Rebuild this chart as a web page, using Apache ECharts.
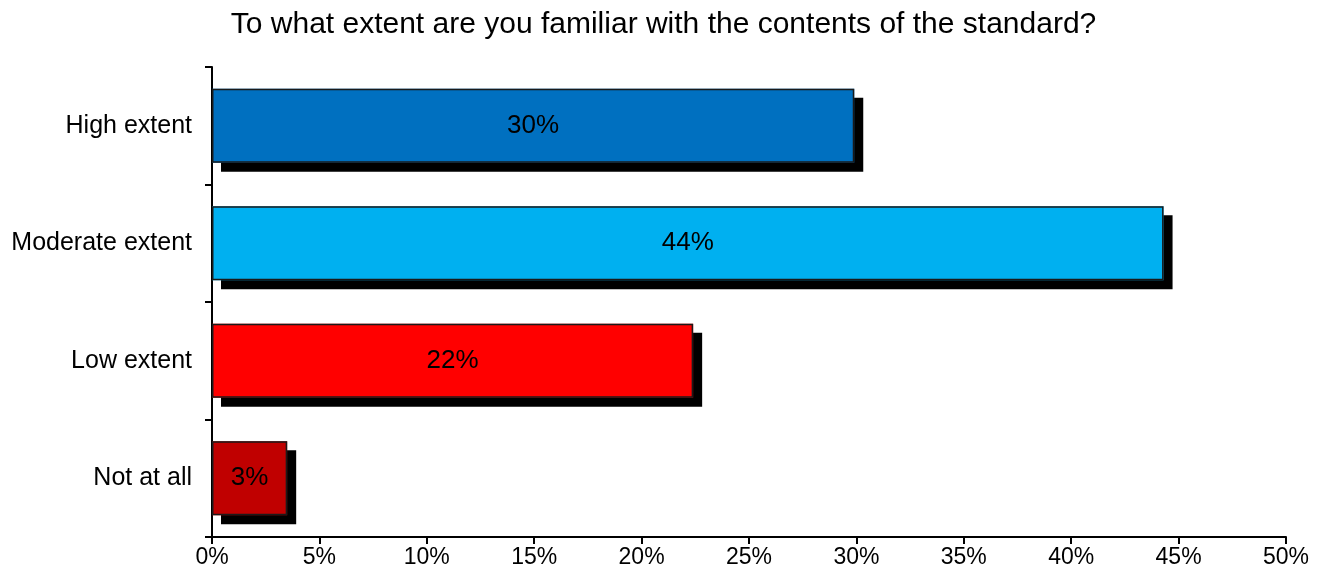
<!DOCTYPE html>
<html>
<head>
<meta charset="utf-8">
<script src="https://cdn.jsdelivr.net/npm/echarts@6/dist/echarts.min.js"></script>
<style>
html,body{margin:0;padding:0;background:#fff;}
#chart{width:1327px;height:580px;}
</style>
</head>
<body>
<div id="chart"></div>
<script>
const title = "To what extent are you familiar with the contents of the standard?";
const categories = ["High extent", "Moderate extent", "Low extent", "Not at all"];
const values = [29.9, 44.3, 22.4, 3.5];
const valueLabels = ["30%", "44%", "22%", "3%"];
const barColors = ["#0070C0", "#00B0F0", "#FF0000", "#C00000"];
const xTicks = [0, 5, 10, 15, 20, 25, 30, 35, 40, 45, 50];

const FONT = "'Liberation Sans', Arial, sans-serif";
const chart = echarts.init(document.getElementById('chart'), null, {renderer: 'canvas'});
chart.setOption({
  animation: false,
  backgroundColor: '#fff',
  title: {
    text: title,
    left: 'center',
    top: 5,
    textStyle: {fontFamily: FONT, fontSize: 30, fontWeight: 'normal', color: '#000'}
  },
  grid: {left: 212, right: 41, top: 67, bottom: 43, containLabel: false},
  xAxis: {
    type: 'value',
    min: xTicks[0],
    max: xTicks[xTicks.length - 1],
    interval: xTicks[1] - xTicks[0],
    axisLine: {show: true, lineStyle: {color: '#000', width: 2}},
    axisTick: {show: true, length: 7, lineStyle: {color: '#000', width: 2}},
    splitLine: {show: false},
    axisLabel: {formatter: '{value}%', fontFamily: FONT, fontSize: 23, color: '#000', margin: 9}
  },
  yAxis: {
    type: 'category',
    data: categories,
    inverse: true,
    axisLine: {show: true, lineStyle: {color: '#000', width: 2}},
    axisTick: {show: true, length: 7, lineStyle: {color: '#000', width: 2}},
    axisLabel: {fontFamily: FONT, fontSize: 25, color: '#000', margin: 20}
  },
  series: [{
    type: 'bar',
    barWidth: '63%',
    z: 2,
    data: values.map((v, i) => ({
      value: v,
      itemStyle: {color: barColors[i]}
    })),
    itemStyle: {
      borderWidth: 0,
      shadowColor: '#000',
      shadowBlur: 0,
      shadowOffsetX: 9,
      shadowOffsetY: 9
    }
  }, {
    type: 'bar',
    barWidth: '63%',
    barGap: '-100%',
    z: 3,
    data: values.map((v, i) => ({
      value: v,
      label: {formatter: valueLabels[i]}
    })),
    itemStyle: {
      color: 'rgba(0,0,0,0)',
      borderColor: '#1a1a1a',
      borderWidth: 1.5
    },
    label: {
      show: true,
      position: 'inside',
      fontFamily: FONT,
      fontSize: 26,
      color: '#000'
    }
  }]
});
</script>
</body>
</html>
